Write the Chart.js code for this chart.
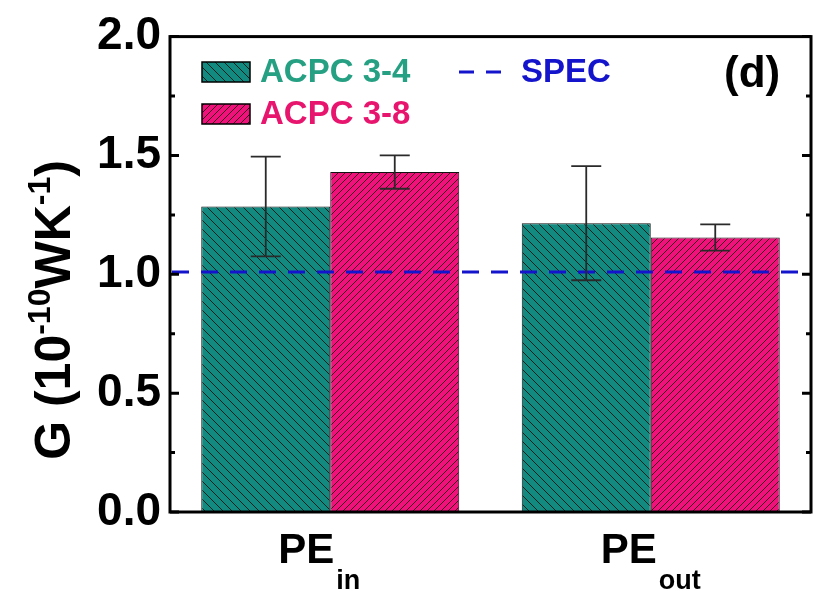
<!DOCTYPE html>
<html>
<head>
<meta charset="utf-8">
<script src="https://cdn.jsdelivr.net/npm/chart.js@4/dist/chart.umd.min.js"></script>
<style>
    html, body { margin: 0; padding: 0; background: #fff; }
    #wrap { width: 825px; height: 595px; }
</style>
</head>
<body>
<div id="wrap"><canvas id="gChart" width="825" height="595"></canvas></div>
<script>
// Chart data
const categoryMain = ['PE', 'PE'];
const categorySub = ['in', 'out'];
const acpc34 = [1.285, 1.215];
const acpc34Err = [0.21, 0.24];
const acpc38 = [1.43, 1.155];
const acpc38Err = [0.07, 0.055];
const specValue = 1.01;
const yTickValues = [0.0, 0.5, 1.0, 1.5, 2.0];
const yMinorValues = [0.25, 0.75, 1.25, 1.75];

const FONT = "'Liberation Sans', Arial, sans-serif";
const TEAL = '#138a80';
const PINK = '#f0127a';
const TEAL_TEXT = '#26a082';
const PINK_TEXT = '#e8156e';
const BLUE = '#1414cc';

// Hatched fill, dir 1 = "\" lines, dir -1 = "/" lines
function makeHatch(color, spacing, dir) {
    const c = document.createElement('canvas');
    c.width = spacing;
    c.height = spacing;
    const g = c.getContext('2d');
    g.fillStyle = color;
    g.fillRect(0, 0, spacing, spacing);
    g.strokeStyle = 'rgba(0,0,0,0.75)';
    g.lineWidth = 1;
    g.beginPath();
    for (let k = -1; k <= 1; k++) {
        if (dir > 0) {
            g.moveTo(k * spacing, 0);
            g.lineTo(k * spacing + spacing, spacing);
        } else {
            g.moveTo(k * spacing + spacing, 0);
            g.lineTo(k * spacing, spacing);
        }
    }
    g.stroke();
    return g.createPattern(c, 'repeat');
}

const tealHatch = makeHatch(TEAL, 9, 1);
const pinkHatch = makeHatch(PINK, 7, -1);

// Frame, inward ticks, spec line, error bars, legend and labels
const decorPlugin = {
    id: 'decor',
    afterDatasetsDraw(chart) {
        const ctx = chart.ctx;
        const area = chart.chartArea;
        const xs = chart.scales.x;
        const ys = chart.scales.y;
        ctx.save();

        // SPEC dashed line
        const ySpec = ys.getPixelForValue(specValue);
        ctx.strokeStyle = BLUE;
        ctx.lineWidth = 3;
        ctx.setLineDash([17, 12]);
        ctx.beginPath();
        ctx.moveTo(area.left + 2, ySpec);
        ctx.lineTo(area.right - 8, ySpec);
        ctx.stroke();
        ctx.setLineDash([]);

        // Error bars
        const errs = [acpc34Err, acpc38Err];
        const vals = [acpc34, acpc38];
        ctx.strokeStyle = '#2a2a2a';
        ctx.lineWidth = 1.8;
        [0, 1].forEach(di => {
            chart.getDatasetMeta(di).data.forEach((bar, i) => {
                const yHi = ys.getPixelForValue(vals[di][i] + errs[di][i]);
                const yLo = ys.getPixelForValue(vals[di][i] - errs[di][i]);
                const cx = bar.x;
                ctx.beginPath();
                ctx.moveTo(cx, yHi);
                ctx.lineTo(cx, yLo);
                ctx.moveTo(cx - 15, yHi);
                ctx.lineTo(cx + 15, yHi);
                ctx.moveTo(cx - 15, yLo);
                ctx.lineTo(cx + 15, yLo);
                ctx.stroke();
            });
        });

        // Frame
        ctx.strokeStyle = '#000';
        ctx.lineWidth = 3;
        ctx.strokeRect(area.left, area.top, area.right - area.left, area.bottom - area.top);

        // Inward ticks on left and right axes
        ctx.lineWidth = 3;
        ctx.beginPath();
        yTickValues.forEach(v => {
            const y = ys.getPixelForValue(v);
            ctx.moveTo(area.left, y);
            ctx.lineTo(area.left + 9, y);
            ctx.moveTo(area.right, y);
            ctx.lineTo(area.right - 9, y);
        });
        yMinorValues.forEach(v => {
            const y = ys.getPixelForValue(v);
            ctx.moveTo(area.left, y);
            ctx.lineTo(area.left + 5, y);
            ctx.moveTo(area.right, y);
            ctx.lineTo(area.right - 5, y);
        });
        ctx.stroke();

        // Legend
        const sets = chart.data.datasets;
        const legendColors = [TEAL_TEXT, PINK_TEXT];
        const rowsY = [72, 114];
        ctx.font = 'bold 33px ' + FONT;
        ctx.textBaseline = 'middle';
        ctx.textAlign = 'left';
        sets.forEach((ds, i) => {
            const top = rowsY[i] - 10;
            ctx.fillStyle = ds.backgroundColor;
            ctx.fillRect(202, top, 48, 20);
            ctx.strokeStyle = '#000';
            ctx.lineWidth = 1.5;
            ctx.strokeRect(202, top, 48, 20);
            ctx.fillStyle = legendColors[i];
            ctx.fillText(ds.label, 260, rowsY[i] + 1);
        });
        ctx.strokeStyle = BLUE;
        ctx.lineWidth = 3;
        ctx.setLineDash([15, 12]);
        ctx.beginPath();
        ctx.moveTo(459, rowsY[0]);
        ctx.lineTo(505, rowsY[0]);
        ctx.stroke();
        ctx.setLineDash([]);
        ctx.fillStyle = BLUE;
        ctx.fillText('SPEC', 521, rowsY[0] + 1);

        // Panel tag
        ctx.fillStyle = '#000';
        ctx.font = 'bold 44px ' + FONT;
        ctx.fillText('(d)', 724, 75);

        // Category labels with subscripts
        const labelShift = [-11, 0];
        ctx.textBaseline = 'alphabetic';
        categoryMain.forEach((main, i) => {
            const cx = xs.getPixelForTick(i) + labelShift[i];
            ctx.font = 'bold 42px ' + FONT;
            const wMain = ctx.measureText(main).width;
            ctx.font = 'bold 27px ' + FONT;
            const wSub = ctx.measureText(categorySub[i]).width;
            const x0 = cx - (wMain + 2 + wSub) / 2;
            ctx.font = 'bold 42px ' + FONT;
            ctx.fillText(main, x0, 563);
            ctx.font = 'bold 27px ' + FONT;
            ctx.fillText(categorySub[i], x0 + wMain + 2, 589);
        });

        // Y axis title with superscripts
        const parts = [
            ['G (10', 50, 0],
            ['-10', 32, -20],
            ['WK', 50, 0],
            ['-1', 32, -20],
            [')', 50, 0]
        ];
        let total = 0;
        parts.forEach(p => {
            ctx.font = 'bold ' + p[1] + 'px ' + FONT;
            total += ctx.measureText(p[0]).width;
        });
        ctx.translate(70, 310);
        ctx.rotate(-Math.PI / 2);
        let x = -total / 2;
        parts.forEach(p => {
            ctx.font = 'bold ' + p[1] + 'px ' + FONT;
            ctx.fillText(p[0], x, p[2]);
            x += ctx.measureText(p[0]).width;
        });

        ctx.restore();
    }
};

function createChart() {
    const ctx = document.getElementById('gChart').getContext('2d');
    new Chart(ctx, {
        type: 'bar',
        data: {
            labels: categoryMain.map((m, i) => m + categorySub[i]),
            datasets: [{
                label: 'ACPC 3-4',
                data: acpc34,
                backgroundColor: tealHatch,
                borderColor: '#111',
                borderWidth: 1
            }, {
                label: 'ACPC 3-8',
                data: acpc38,
                backgroundColor: pinkHatch,
                borderColor: '#111',
                borderWidth: 1
            }]
        },
        options: {
            responsive: false,
            animation: false,
            layout: {
                padding: { left: 0, right: 14, top: 30, bottom: 0 }
            },
            datasets: {
                bar: {
                    categoryPercentage: 0.805,
                    barPercentage: 1.0
                }
            },
            plugins: {
                legend: { display: false },
                tooltip: { enabled: false }
            },
            scales: {
                x: {
                    grid: { display: false },
                    border: { display: false },
                    ticks: { display: false },
                    afterFit: s => { s.height = 83; }
                },
                y: {
                    min: 0,
                    max: 2,
                    grid: { display: false, drawTicks: false },
                    border: { display: false },
                    ticks: {
                        stepSize: 0.5,
                        padding: 9,
                        color: '#000',
                        font: { family: FONT, size: 46, weight: 'bold' },
                        callback: v => v.toFixed(1)
                    },
                    afterFit: s => { s.width = 170; }
                }
            }
        },
        plugins: [decorPlugin]
    });
}

document.addEventListener('DOMContentLoaded', createChart);
</script>
</body>
</html>
